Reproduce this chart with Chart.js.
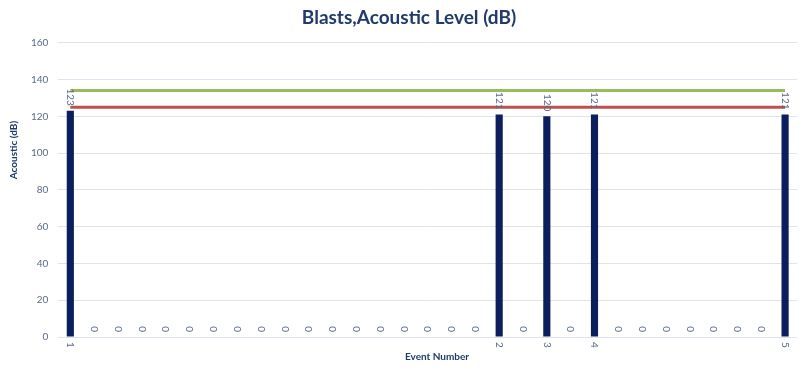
<!DOCTYPE html>
<html>
<head>
<meta charset="utf-8">
<script src="https://cdn.jsdelivr.net/npm/chart.js@4/dist/chart.umd.min.js"></script>
<style>
  html, body { margin: 0; padding: 0; background: #fff; }
  #wrap { width: 805px; height: 375px; }
</style>
</head>
<body>
<div id="wrap"><canvas id="chart"></canvas></div>
<script>
// 31 event slots; only the blast events carry a label
const eventLabels = ['1', '', '', '', '', '', '', '', '', '', '', '', '', '', '', '', '', '',
  '2', '', '3', '', '4', '', '', '', '', '', '', '', '5'];
const acousticValues = [123, 0, 0, 0, 0, 0, 0, 0, 0, 0, 0, 0, 0, 0, 0, 0, 0, 0,
  121, 0, 120, 0, 121, 0, 0, 0, 0, 0, 0, 0, 121];
const upperLimit = 134;
const lowerLimit = 125;

const yTicks = { min: 0, max: 160, step: 20 };

const FONT = 'Lato, "Open Sans", sans-serif';
const TEXT_GREY = '#5a6b86';
const DARK_BLUE = '#1f3a6b';

// draws value labels and x tick labels rotated clockwise, plus axis titles
const rotatedText = {
    id: 'rotatedText',
    afterDatasetsDraw(chart) {
        const ctx = chart.ctx;
        const meta = chart.getDatasetMeta(0);
        const area = chart.chartArea;

        ctx.save();
        ctx.fillStyle = TEXT_GREY;
        ctx.font = '10px ' + FONT;
        meta.data.forEach((bar, i) => {
            ctx.save();
            ctx.translate(bar.x, bar.y - 5);
            ctx.rotate(Math.PI / 2);
            ctx.textAlign = 'right';
            ctx.textBaseline = 'middle';
            ctx.fillText(String(acousticValues[i]), 0, 0);
            ctx.restore();

            if (eventLabels[i]) {
                ctx.save();
                ctx.translate(bar.x, area.bottom + 5);
                ctx.rotate(Math.PI / 2);
                ctx.textAlign = 'left';
                ctx.textBaseline = 'middle';
                ctx.fillText(eventLabels[i], 0, 0);
                ctx.restore();
            }
        });

        // axis titles
        ctx.fillStyle = DARK_BLUE;
        ctx.font = 'bold 10px ' + FONT;
        ctx.textAlign = 'center';
        ctx.textBaseline = 'middle';
        ctx.fillText('Event Number', 437, 357);

        ctx.save();
        ctx.translate(14, 150);
        ctx.rotate(-Math.PI / 2);
        ctx.fillText('Acoustic (dB)', 0, 0);
        ctx.restore();

        ctx.restore();
    }
};

const ctx = document.getElementById('chart').getContext('2d');
new Chart(ctx, {
    type: 'bar',
    data: {
        labels: eventLabels,
        datasets: [
            {
                type: 'bar',
                data: acousticValues,
                backgroundColor: '#0b1f5e',
                barPercentage: 0.3,
                categoryPercentage: 1,
                order: 2
            },
            {
                type: 'line',
                data: eventLabels.map(() => lowerLimit),
                borderColor: '#c0504d',
                borderWidth: 3,
                pointRadius: 0,
                order: 1
            },
            {
                type: 'line',
                data: eventLabels.map(() => upperLimit),
                borderColor: '#9bbb59',
                borderWidth: 3,
                pointRadius: 0,
                order: 1
            }
        ]
    },
    options: {
        responsive: true,
        maintainAspectRatio: false,
        animation: false,
        layout: { padding: { top: 0, right: 8, bottom: 30, left: 21 } },
        plugins: {
            legend: { display: false },
            tooltip: { enabled: false },
            title: {
                display: true,
                text: 'Blasts,Acoustic Level (dB)',
                color: DARK_BLUE,
                font: { family: FONT, size: 19, weight: 'bold' },
                padding: { top: 6, bottom: 14 }
            }
        },
        scales: {
            x: {
                grid: { display: false },
                border: { display: false },
                ticks: { display: false }
            },
            y: {
                min: yTicks.min,
                max: yTicks.max,
                ticks: {
                    stepSize: yTicks.step,
                    color: TEXT_GREY,
                    font: { family: FONT, size: 10 },
                    padding: 10
                },
                grid: { color: '#dde4ee', drawTicks: false },
                border: { display: false }
            }
        }
    },
    plugins: [rotatedText]
});
</script>
</body>
</html>
